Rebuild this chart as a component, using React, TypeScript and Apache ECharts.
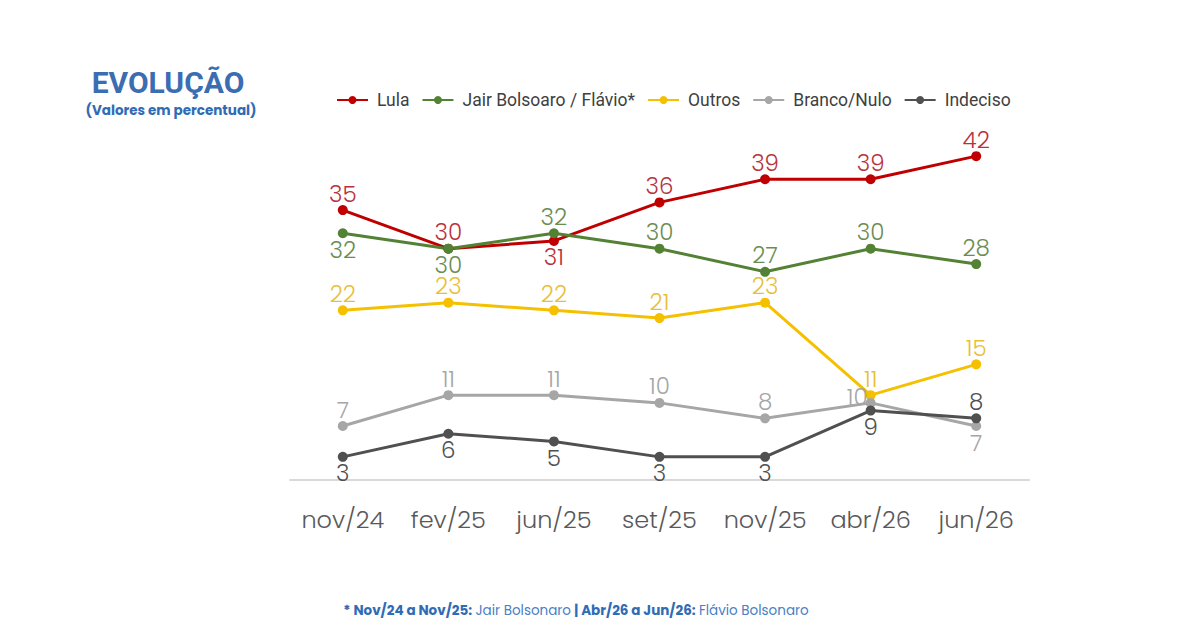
import { useEffect, useRef } from "react";
import * as echarts from "echarts";

const months = ["nov/24", "fev/25", "jun/25", "set/25", "nov/25", "abr/26", "jun/26"];

const lula = [35, 30, 31, 36, 39, 39, 42];
const bolsonaro = [32, 30, 32, 30, 27, 30, 28];
const outros = [22, 23, 22, 21, 23, 11, 15];
const brancoNulo = [7, 11, 11, 10, 8, 10, 7];
const indeciso = [3, 6, 5, 3, 3, 9, 8];

// where each point's value label sits
const lulaPos = ["top", "top", "bottom", "top", "top", "top", "top"];
const bolsonaroPos = ["bottom", "bottom", "top", "top", "top", "top", "top"];
const outrosPos = ["top", "top", "top", "top", "top", "top", "top"];
const brancoPos = ["top", "top", "top", "top", "top", "left", "bottom"];
const indecisoPos = ["bottom", "bottom", "bottom", "bottom", "bottom", "bottom", "top"];

const FONT = "Poppins, 'Open Sans', Roboto, sans-serif";

function makeSeries(name: string, values: number[], pos: string[], color: string, labelColor: string) {
  return {
    name,
    type: "line",
    symbol: "circle",
    symbolSize: 10,
    lineStyle: { width: 3, color },
    itemStyle: { color },
    label: {
      show: true,
      fontSize: 23,
      fontFamily: FONT,
      fontWeight: 300,
      color: labelColor,
    },
    data: values.map((v, i) => ({
      value: v,
      label: {
        position: pos[i],
        distance: 0,
        offset: pos[i] === "left" ? [2, -6] : [0, 0],
      },
    })),
  };
}

export default function App() {
  const chartRef = useRef(null);

  useEffect(() => {
    const chart = echarts.init(chartRef.current, null, { renderer: "svg" });

    const options = {
      animation: false,
      backgroundColor: "#ffffff",
      title: [
        {
          text: "EVOLUÇÃO",
          left: 163,
          top: 62,
          textAlign: "center",
          textStyle: {
            fontSize: 30,
            fontWeight: "bold",
            color: "#3b6db3",
            fontFamily: "Roboto, sans-serif",
          },
        },
        {
          text: "(Valores em percentual)",
          left: 166,
          top: 98,
          textAlign: "center",
          textStyle: {
            fontSize: 13.5,
            fontWeight: "bold",
            color: "#2f6cb5",
            fontFamily: FONT,
          },
        },
      ],
      legend: {
        top: 86,
        left: 331,
        itemWidth: 31,
        itemHeight: 10,
        itemGap: 12,
        textStyle: {
          fontSize: 17.5,
          color: "#404040",
          fontFamily: "Roboto, sans-serif",
          padding: [0, 0, 0, 4],
        },
        data: ["Lula", "Jair Bolsoaro / Flávio*", "Outros", "Branco/Nulo", "Indeciso"],
      },
      grid: { left: 290, right: 171, top: 133, bottom: 164 },
      xAxis: {
        type: "category",
        data: months,
        boundaryGap: true,
        axisLine: { lineStyle: { color: "#d9d9d9", width: 2 } },
        axisTick: { show: false },
        axisLabel: {
          interval: 0,
          fontSize: 24,
          color: "#595959",
          fontFamily: FONT,
          fontWeight: 300,
          margin: 27,
        },
      },
      yAxis: {
        type: "value",
        min: 0,
        max: 45,
        show: false,
        splitLine: { show: false },
      },
      graphic: [
        {
          type: "text",
          x: 576,
          y: 610,
          style: {
            text: "{b|* Nov/24 a Nov/25:} {r|Jair Bolsonaro} {b|| Abr/26 a Jun/26:} {r|Flávio Bolsonaro}",
            align: "center",
            verticalAlign: "middle",
            rich: {
              b: { fontSize: 13.5, fontWeight: "bold", fill: "#2f6cb5", fontFamily: FONT },
              r: { fontSize: 13.5, fill: "#4a80c4", fontFamily: FONT },
            },
          },
        },
      ],
      series: [
        makeSeries("Lula", lula, lulaPos, "#c00000", "#b8323c"),
        makeSeries("Jair Bolsoaro / Flávio*", bolsonaro, bolsonaroPos, "#548235", "#6b8c52"),
        makeSeries("Outros", outros, outrosPos, "#f5c000", "#e8bf3a"),
        makeSeries("Branco/Nulo", brancoNulo, brancoPos, "#a6a6a6", "#a6a6a6"),
        makeSeries("Indeciso", indeciso, indecisoPos, "#505050", "#505050"),
      ],
    };

    chart.setOption(options);

    return () => {
      chart.dispose();
    };
  }, []);

  return <div ref={chartRef} style={{ width: "1200px", height: "644px", margin: "-8px" }} />;
}
